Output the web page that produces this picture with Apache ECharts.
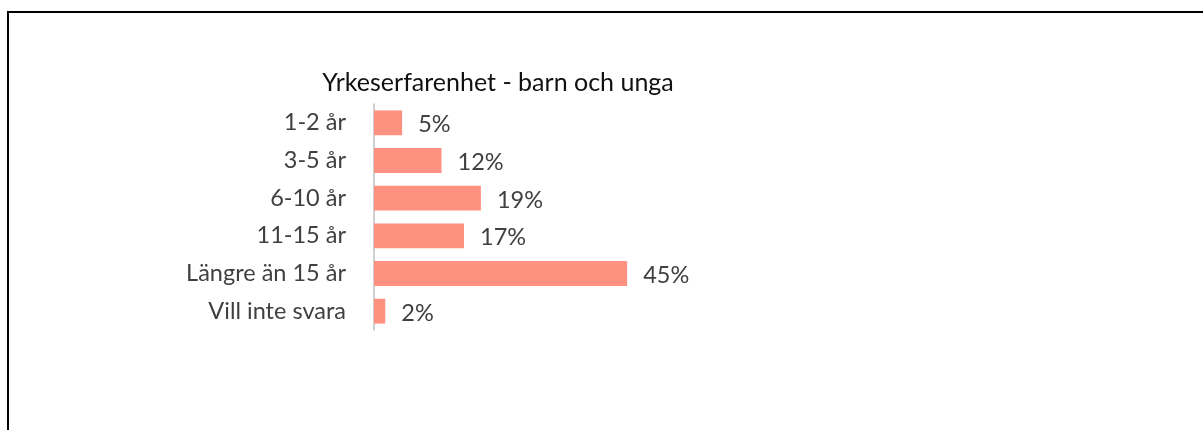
<!DOCTYPE html>
<html>
<head>
<meta charset="utf-8">
<script src="https://cdn.jsdelivr.net/npm/echarts@6/dist/echarts.min.js"></script>
<style>
  html, body { margin: 0; padding: 0; background: #fff; }
  #chart { width: 1203px; height: 430px; }
</style>
</head>
<body>
<div id="chart"></div>
<script>
const titleText = "Yrkeserfarenhet - barn och unga";
const categories = ["1-2 år", "3-5 år", "6-10 år", "11-15 år", "Längre än 15 år", "Vill inte svara"];
// bar lengths as drawn in the picture (percent)
const values = [5, 12, 19, 16, 45, 2];
// printed labels next to the bars
const valueLabels = ["5%", "12%", "19%", "17%", "45%", "2%"];

const chart = echarts.init(document.getElementById("chart"));

chart.setOption({
  animation: false,
  title: {
    text: titleText,
    left: 493,
    top: 65,
    textAlign: "center",
    textStyle: {
      fontFamily: "Lato",
      fontSize: 25,
      fontWeight: "normal",
      color: "#111",
    },
  },
  graphic: [
    {
      type: "rect",
      shape: { x: 8, y: 12, width: 1400, height: 600 },
      style: { fill: "none", stroke: "#000", lineWidth: 2 },
      silent: true,
    },
  ],
  grid: {
    left: 374,
    top: 104,
    width: 562.5,
    height: 226,
    containLabel: false,
  },
  xAxis: {
    type: "value",
    min: 0,
    max: 100,
    show: false,
  },
  yAxis: {
    type: "category",
    data: categories,
    inverse: true,
    axisTick: { show: false },
    axisLine: { lineStyle: { color: "#bfbfbf", width: 1.5 } },
    axisLabel: {
      margin: 28,
      fontFamily: "Lato",
      fontSize: 23.5,
      color: "#404040",
    },
  },
  series: [
    {
      type: "bar",
      data: values,
      barCategoryGap: "34%",
      itemStyle: { color: "#ff9181" },
      label: {
        show: true,
        position: "right",
        distance: 16,
        offset: [0, 2],
        fontFamily: "Lato",
        fontSize: 23.5,
        color: "#404040",
        formatter: (p) => valueLabels[p.dataIndex],
      },
    },
  ],
});
</script>
</body>
</html>
